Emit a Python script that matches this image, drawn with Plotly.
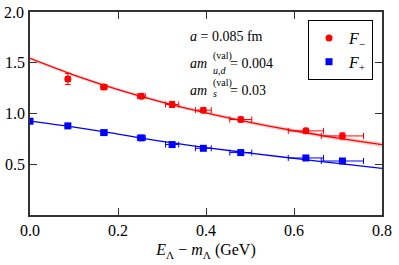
import plotly.graph_objects as go

# ---- data ----
fm_x = [0.086, 0.168, 0.253, 0.323, 0.394, 0.479, 0.627, 0.710]
fm_y = [1.340, 1.260, 1.171, 1.089, 1.033, 0.941, 0.829, 0.779]
fm_xerr = [0.005, 0.007, 0.009, 0.015, 0.018, 0.025, 0.040, 0.048]
fm_yerr = [0.055, 0.025, 0.025, 0.030, 0.025, 0.025, 0.025, 0.030]

fp_x = [0.0, 0.086, 0.168, 0.253, 0.323, 0.394, 0.479, 0.627, 0.710]
fp_y = [0.924, 0.878, 0.812, 0.760, 0.694, 0.657, 0.615, 0.562, 0.532]
fp_xerr = [0.0, 0.005, 0.007, 0.009, 0.015, 0.018, 0.025, 0.040, 0.048]
fp_yerr = [0.010, 0.015, 0.015, 0.015, 0.012, 0.012, 0.012, 0.020, 0.020]

fit_x = [0.0, 0.1, 0.2, 0.3, 0.4, 0.5, 0.6, 0.7, 0.8]
fit_m = [1.543, 1.379, 1.236, 1.113, 1.005, 0.912, 0.830, 0.758, 0.694]
fit_m_hi = [1.560, 1.395, 1.251, 1.128, 1.021, 0.929, 0.849, 0.779, 0.717]
fit_m_lo = [1.526, 1.363, 1.221, 1.098, 0.989, 0.895, 0.811, 0.737, 0.671]
fit_p = [0.925, 0.866, 0.797, 0.725, 0.664, 0.610, 0.558, 0.508, 0.460]

x_ticks = [0.0, 0.2, 0.4, 0.6, 0.8]
y_ticks = [0.5, 1.0, 1.5, 2.0]

RED = "#ff0000"
BLUE = "#0000ff"
FONT = "Liberation Serif, Times New Roman, Times, serif"

fig = go.Figure()

# error band of F_- fit
fig.add_trace(go.Scatter(x=fit_x, y=fit_m_hi, mode="lines", line=dict(width=0, shape="spline"),
                         showlegend=False, hoverinfo="skip"))
fig.add_trace(go.Scatter(x=fit_x, y=fit_m_lo, mode="lines", line=dict(width=0, shape="spline"),
                         fill="tonexty", fillcolor="rgba(255,140,140,0.40)",
                         showlegend=False, hoverinfo="skip"))
# fit lines
fig.add_trace(go.Scatter(x=fit_x, y=fit_m, mode="lines", line=dict(color=RED, width=1.3, shape="spline"),
                         showlegend=False))
fig.add_trace(go.Scatter(x=fit_x, y=fit_p, mode="lines", line=dict(color=BLUE, width=1.3, shape="spline"),
                         showlegend=False))

# data points
fig.add_trace(go.Scatter(
    x=fm_x, y=fm_y, mode="markers", name="<i>F</i><sub>−</sub>",
    marker=dict(symbol="circle", size=7, color=RED),
    error_x=dict(type="data", array=fm_xerr, color=RED, thickness=1, width=3),
    error_y=dict(type="data", array=fm_yerr, color=RED, thickness=1, width=3),
))
fig.add_trace(go.Scatter(
    x=fp_x, y=fp_y, mode="markers", name="<i>F</i><sub>+</sub>",
    marker=dict(symbol="square", size=7, color=BLUE),
    error_x=dict(type="data", array=fp_xerr, color=BLUE, thickness=1, width=3),
    error_y=dict(type="data", array=fp_yerr, color=BLUE, thickness=1, width=3),
))

L, R, T, B = 30, 17, 12, 50
W, H = 399, 265
pw, ph = W - L - R, H - T - B


def px(xp):
    return (xp - L) / pw


def py(yp):
    return (H - B - yp) / ph


anns = []
tf = dict(family=FONT, size=14, color="black")
sf = dict(family=FONT, size=10, color="black")
# line 1
anns.append(dict(x=px(188), y=py(37), text="<i>a</i> = 0.085 fm", font=tf, xanchor="left", yanchor="middle"))
# line 2
anns.append(dict(x=px(188), y=py(63), text="<i>am</i>", font=tf, xanchor="left", yanchor="middle"))
anns.append(dict(x=px(211), y=py(56), text="(val)", font=sf, xanchor="left", yanchor="middle"))
anns.append(dict(x=px(211), y=py(70), text="<i>u,d</i>", font=sf, xanchor="left", yanchor="middle"))
anns.append(dict(x=px(228), y=py(63), text="= 0.004", font=tf, xanchor="left", yanchor="middle"))
# line 3
anns.append(dict(x=px(188), y=py(90), text="<i>am</i>", font=tf, xanchor="left", yanchor="middle"))
anns.append(dict(x=px(211), y=py(83), text="(val)", font=sf, xanchor="left", yanchor="middle"))
anns.append(dict(x=px(211), y=py(94), text="<i>s</i>", font=sf, xanchor="left", yanchor="middle"))
anns.append(dict(x=px(228), y=py(90), text="= 0.03", font=tf, xanchor="left", yanchor="middle"))
# top y tick label (plotly drops it at the very edge of the page)
anns.append(dict(x=px(26), y=py(12), text=f"{y_ticks[-1]:.1f}",
                 font=dict(family=FONT, size=16, color="black"), xanchor="right", yanchor="middle"))
for a in anns:
    a.update(xref="paper", yref="paper", showarrow=False)

axis_common = dict(showline=True, linecolor="#333333", linewidth=1.5, mirror="ticks",
                   ticks="inside", ticklen=7, tickwidth=1.2, tickcolor="#333333",
                   showgrid=False, zeroline=False, automargin=False,
                   ticklabeloverflow="allow",
                   tickfont=dict(family=FONT, size=16, color="black"))

fig.update_layout(
    width=W, height=H,
    margin=dict(l=L, r=R, t=T, b=B, autoexpand=False),
    paper_bgcolor="white", plot_bgcolor="white",
    font=dict(family=FONT),
    xaxis=dict(range=[0, 0.8], tickvals=x_ticks, ticktext=[f"{v:.1f}" for v in x_ticks],
               title=dict(text="<i>E</i><sub>Λ</sub> − <i>m</i><sub>Λ</sub> (GeV)",
                          font=dict(family=FONT, size=16, color="black"), standoff=6),
               **axis_common),
    yaxis=dict(range=[0, 2.0], tickvals=y_ticks,
               ticktext=[f"{v:.1f}" for v in y_ticks[:-1]] + [""],
               **axis_common),
    legend=dict(x=px(373), y=py(20), xanchor="right", yanchor="top",
                bordercolor="black", borderwidth=1, bgcolor="white",
                font=dict(family=FONT, size=16, color="black"),
                itemwidth=30, tracegroupgap=0, traceorder="normal"),
    annotations=anns,
    showlegend=True,
)

fig.write_html("out.html", config={"displayModeBar": False},
               post_script="document.body.style.margin='0';")
